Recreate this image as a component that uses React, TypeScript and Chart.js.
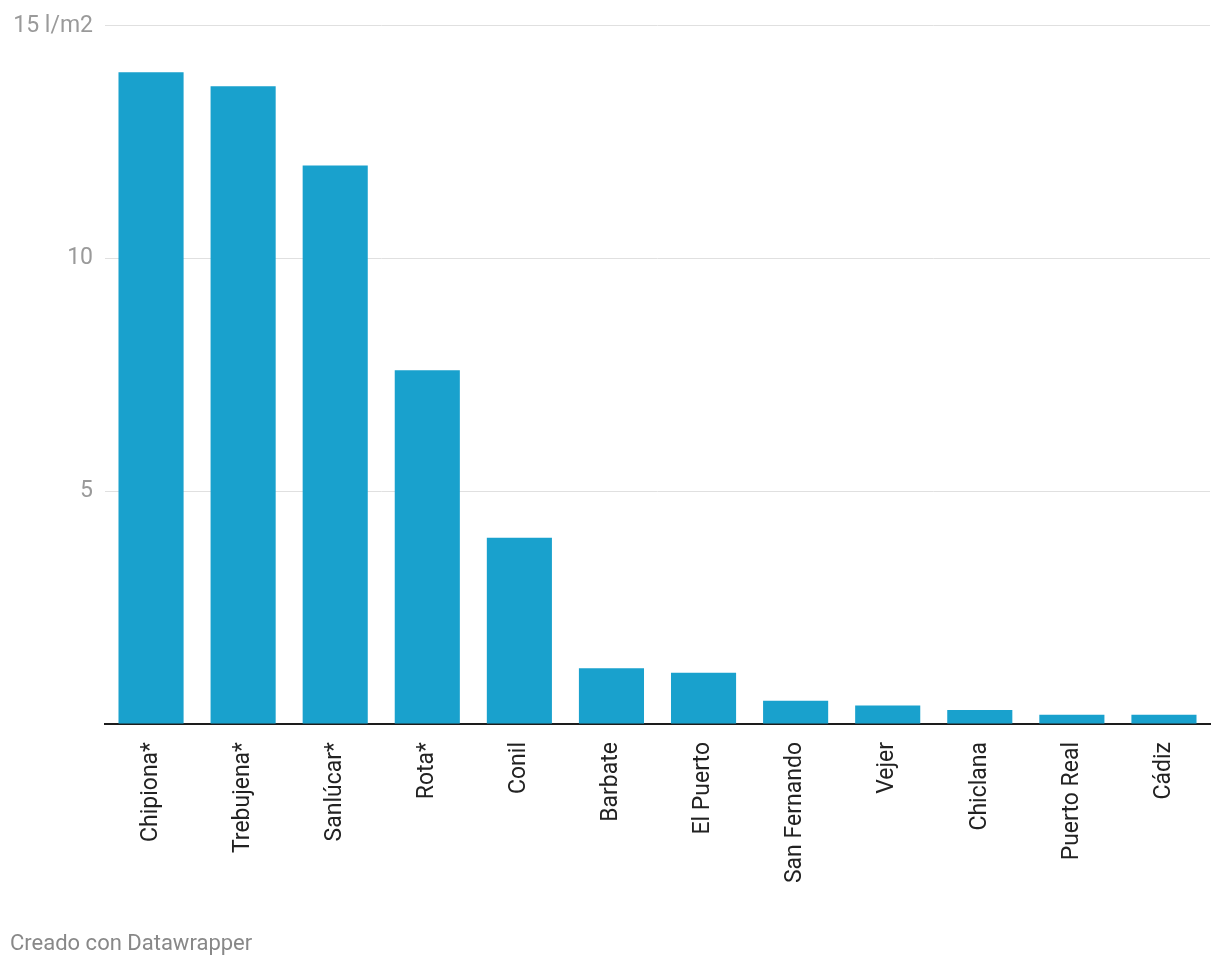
import React, { useEffect, useRef } from "react";
import { Chart, registerables } from "chart.js";

Chart.register(...registerables);

const categories = [
  "Chipiona*", "Trebujena*", "Sanlúcar*", "Rota*", "Conil", "Barbate",
  "El Puerto", "San Fernando", "Vejer", "Chiclana", "Puerto Real", "Cádiz",
];
const rainfall = [14, 13.7, 12, 7.6, 4, 1.2, 1.1, 0.5, 0.4, 0.3, 0.2, 0.2];
const yTicks = [0, 5, 10, 15];
const yUnit = " l/m2";

export default function App() {
  const ref = useRef<HTMLCanvasElement>(null);
  useEffect(() => {
    document.body.style.margin = "0";
    const ctx = ref.current!;
    const chart = new Chart(ctx, {
      type: "bar",
      data: {
        labels: categories,
        datasets: [
          {
            data: rainfall,
            backgroundColor: "#19a1cd",
            borderWidth: 0,
            categoryPercentage: 1,
            barPercentage: 0.707,
          },
        ],
      },
      options: {
        animation: false,
        responsive: false,
        maintainAspectRatio: false,
        layout: { padding: { top: 23, right: 10, left: 0, bottom: 0 } },
        plugins: { legend: { display: false }, tooltip: { enabled: false } },
        scales: {
          x: {
            grid: { display: false },
            border: { display: true, color: "#1d1d1d", width: 2 },
            ticks: {
              minRotation: 90,
              maxRotation: 90,
              autoSkip: false,
              padding: 10,
              color: "#222",
              font: { family: "Roboto", size: 23 },
            },
            afterFit: (s: any) => {
              s.height = 207;
            },
          },
          y: {
            min: 0,
            max: 15,
            afterBuildTicks: (s: any) => {
              s.ticks = yTicks.map((v) => ({ value: v }));
            },
            grid: {
              color: (c: any) => (c.tick && c.tick.value === 0 ? "rgba(0,0,0,0)" : "#e0e0e0"),
              lineWidth: 1,
              drawTicks: false,
            },
            border: { display: false },
            ticks: {
              padding: 12,
              color: "#9a9a9a",
              font: { family: "Roboto", size: 23 },
              callback: (v: any) => (v === 0 ? "" : v === 15 ? `${v}${yUnit}` : `${v}`),
            },
            afterFit: (s: any) => {
              s.width = 105;
            },
          },
        },
      },
    });
    return () => chart.destroy();
  }, []);
  return (
    <div style={{ position: "relative", width: 1220, height: 968, background: "#fff" }}>
      <canvas ref={ref} width={1220} height={931} style={{ display: "block" }} />
      <div
        style={{
          position: "absolute",
          left: 10,
          top: 930,
          fontFamily: "Roboto",
          fontSize: 22,
          color: "#888",
        }}
      >
        Creado con Datawrapper
      </div>
    </div>
  );
}
